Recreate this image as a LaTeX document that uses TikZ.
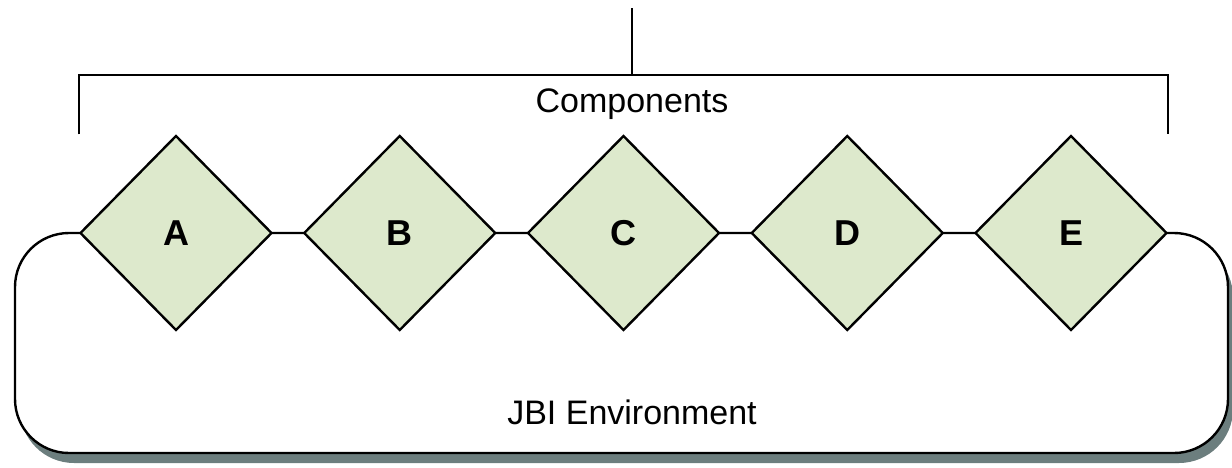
\documentclass[tikz,border=0pt]{standalone}
\usepackage{fontspec}
\setmainfont{Liberation Sans}
\usetikzlibrary{shapes.geometric,shadows}
\definecolor{partfill}{RGB}{221,233,204}
\definecolor{shadowgray}{RGB}{108,126,126}
\tikzset{
	part/.style={draw, line width=1.2pt, diamond, fill=partfill, inner sep=0pt,
		minimum width=96pt, minimum height=97.5pt, font=\fontsize{18}{20}\selectfont\bfseries},
	envbox/.style={draw, line width=1.2pt, fill=white, rounded corners=27pt,
		minimum width=606.5pt, minimum height=110pt,
		drop shadow={shadow xshift=2.5pt, shadow yshift=-5pt, fill=shadowgray, opacity=1}},
	caption/.style={font=\fontsize{17}{20}\selectfont}
}
\begin{document}
\begin{tikzpicture}[x=0.5pt, y=-0.5pt, line width=1.2pt]
\useasboundingbox (0,0) rectangle (1232,467);

%the environment box
\node [envbox] (env) at (621.5,343) {};
\node [caption] (envtext) at (632,412) {JBI Environment};

%the components
\foreach \l [count=\i from 0] in {A,B,C,D,E}
	\node [part] (\l) at (176+\i*223.75,233) {\l};

%bracket over the components
\node [caption] (comptext) at (632,104) {Components};
\coordinate (top) at (632,8);
\coordinate (mid) at (632,75);
\draw (top) -- (mid);
\draw (A.west |- A.north) |- (mid) -| (E.east |- E.north);

\end{tikzpicture}
\end{document}
